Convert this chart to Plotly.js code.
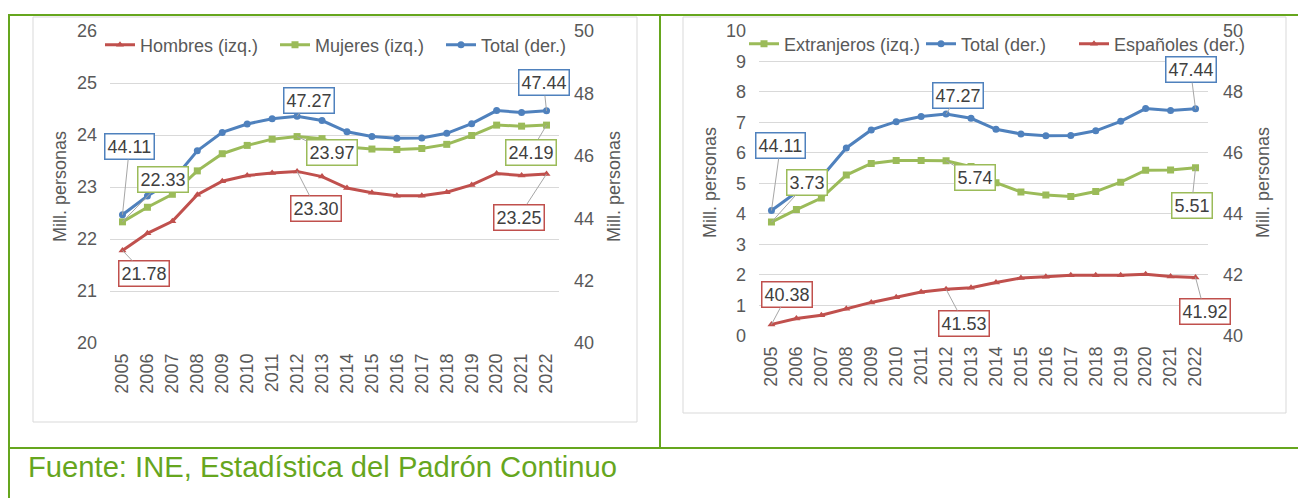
<!DOCTYPE html>
<html><head><meta charset="utf-8">
<script src="https://cdn.plot.ly/plotly-3.0.1.min.js"></script>
<style>html,body{margin:0;padding:0;background:#fff;overflow:hidden}#chart{width:1298px;height:498px}</style>
</head><body><div id="chart"></div><script>
const years = ['2005','2006','2007','2008','2009','2010','2011','2012','2013','2014','2015','2016','2017','2018','2019','2020','2021','2022'];
const hombres = [21.78,22.11,22.34,22.85,23.11,23.22,23.27,23.30,23.20,22.98,22.89,22.83,22.83,22.90,23.04,23.26,23.22,23.25];
const mujeres = [22.33,22.61,22.86,23.31,23.64,23.80,23.92,23.97,23.93,23.77,23.73,23.72,23.74,23.82,23.99,24.19,24.17,24.19];
const total = [44.11,44.71,45.20,46.16,46.75,47.02,47.19,47.27,47.13,46.77,46.62,46.56,46.57,46.72,47.03,47.45,47.39,47.44];
const extranjeros = [3.73,4.14,4.52,5.27,5.65,5.75,5.75,5.74,5.55,5.02,4.72,4.62,4.57,4.73,5.04,5.43,5.44,5.51];
const espanoles = [40.38,40.57,40.68,40.89,41.10,41.27,41.44,41.53,41.58,41.75,41.90,41.94,41.99,41.99,41.99,42.02,41.95,41.92];
const leftTicksA = [20,21,22,23,24,25,26];
const leftTicksB = [0,1,2,3,4,5,6,7,8,9,10];
const rightTicks = [40,42,44,46,48,50];
const seriesNames = ['Hombres (izq.)','Mujeres (izq.)','Total (der.)','Extranjeros (izq.)','Españoles (der.)'];
const yTitle = 'Mill. personas';
const source = 'Fuente: INE, Estadística del Padrón Continuo';

const W = 1298, H = 498;
const px = v => v / W;
const py = v => 1 - v / H;
const RED = '#C0504D', GREEN = '#9BBB59', BLUE = '#4F81BD', GRAY = '#595959', FRAME = '#66A61E';
const FONT = 'Liberation Sans, Arial, sans-serif';

function tr(name, y, xa, ya, color, sym, leg) {
  return {type:'scatter', mode:'lines+markers', name:name, x:years, y:y, xaxis:xa, yaxis:ya,
    legend:leg, line:{color:color, width:3}, marker:{symbol:sym, size:7, color:color}, hoverinfo:'skip'};
}
const data = [
  tr(seriesNames[0], hombres, 'x', 'y', RED, 'triangle-up', 'legend'),
  tr(seriesNames[1], mujeres, 'x', 'y', GREEN, 'square', 'legend2'),
  tr(seriesNames[2], total, 'x', 'y2', BLUE, 'circle', 'legend3'),
  tr(seriesNames[3], extranjeros, 'x2', 'y3', GREEN, 'square', 'legend4'),
  tr(seriesNames[2], total, 'x2', 'y4', BLUE, 'circle', 'legend5'),
  tr(seriesNames[4], espanoles, 'x2', 'y4', RED, 'triangle-up', 'legend6')
];

function lab(xr, yr, arr, i, color, ax, ay) {
  return {xref:xr, yref:yr, x:i, y:arr[i], text:arr[i].toFixed(2), showarrow:true,
    arrowhead:0, arrowwidth:1, arrowcolor:'#A6A6A6', ax:ax, ay:ay, standoff:0,
    bgcolor:'#FFFFFF', bordercolor:color, borderwidth:1.5, borderpad:2,
    font:{family:FONT, size:18, color:'#404040'}};
}
const L = years.length - 1;
const annotations = [
  lab('x','y2', total, 0, BLUE, 7, -68),
  lab('x','y', mujeres, 0, GREEN, 41, -42),
  lab('x','y2', total, 7, BLUE, 12, -16),
  lab('x','y', mujeres, 7, GREEN, 35, 16),
  lab('x','y', hombres, 7, RED, 19, 37),
  lab('x','y', hombres, 0, RED, 22, 23),
  lab('x','y2', total, L, BLUE, -3, -28),
  lab('x','y', mujeres, L, GREEN, -16, 27),
  lab('x','y', hombres, L, RED, -28, 43),
  lab('x2','y4', total, 0, BLUE, 9, -65),
  lab('x2','y3', extranjeros, 0, GREEN, 36, -40),
  lab('x2','y4', total, 7, BLUE, 12, -19),
  lab('x2','y3', extranjeros, 7, GREEN, 29, 17),
  lab('x2','y4', total, L, BLUE, -5, -39),
  lab('x2','y3', extranjeros, L, GREEN, -4, 38),
  lab('x2','y4', espanoles, 0, RED, 16, -30),
  lab('x2','y4', espanoles, 7, RED, 18, 34),
  lab('x2','y4', espanoles, L, RED, 9, 34)
];
function ytitle(xp, yp) {
  return {xref:'paper', yref:'paper', x:px(xp), y:py(yp), text:yTitle, textangle:-90, showarrow:false,
    xanchor:'center', yanchor:'middle', font:{family:FONT, size:18, color:GRAY}};
}
annotations.push(ytitle(60, 187), ytitle(614, 187), ytitle(710, 183), ytitle(1263, 183));
annotations.push({xref:'paper', yref:'paper', x:px(26), y:py(467), xanchor:'left', yanchor:'middle',
  text:source, showarrow:false, font:{family:FONT, size:29.2, color:FRAME}});

function line(x0,y0,x1,y1,color,w){return {type:'line', xref:'paper', yref:'paper', x0:px(x0), y0:py(y0), x1:px(x1), y1:py(y1), line:{color:color, width:w}, layer:'below'};}
function rect(x0,y0,x1,y1){return {type:'rect', xref:'paper', yref:'paper', x0:px(x0), y0:py(y0), x1:px(x1), y1:py(y1), line:{color:'#D9D9D9', width:1}, layer:'below'};}
const shapes = [
  rect(33,17,637,422), rect(683,17,1286,413),
  line(8,15,1298,15,FRAME,2), line(9,15,9,498,FRAME,2), line(660,15,660,448,FRAME,2), line(8,448,1298,448,FRAME,2)
];

const tickFont = {family:FONT, size:18, color:GRAY};
const xbase = {type:'category', range:[-0.5, 17.5], tickangle:-90, showgrid:false, showline:false, zeroline:false,
  ticks:'', tickfont:tickFont, ticklabelstandoff:6, fixedrange:true};
const ybase = {showline:false, zeroline:false, ticks:'', tickfont:tickFont, gridcolor:'#D9D9D9', gridwidth:1, fixedrange:true};
function leg(xText, yc) {
  return {orientation:'h', xanchor:'left', yanchor:'middle', x:px(xText - 41), y:py(yc), bgcolor:'rgba(0,0,0,0)',
    font:{family:FONT, size:18, color:GRAY}, itemwidth:30, itemclick:false};
}

const layout = {
  width:W, height:H, margin:{l:0,r:0,t:0,b:0}, paper_bgcolor:'#fff', plot_bgcolor:'rgba(0,0,0,0)',
  font:{family:FONT, color:GRAY}, showlegend:true, hovermode:false,
  xaxis:Object.assign({}, xbase, {domain:[px(110), px(559)], anchor:'y'}),
  xaxis2:Object.assign({}, xbase, {domain:[px(759), px(1208)], anchor:'y3'}),
  yaxis:Object.assign({}, ybase, {domain:[py(343), py(31)], range:[20,26], tickvals:leftTicksA, anchor:'x', ticklabelstandoff:12}),
  yaxis2:Object.assign({}, ybase, {overlaying:'y', side:'right', anchor:'x', range:[40,50], tickvals:rightTicks, showgrid:false, ticklabelstandoff:14}),
  yaxis3:Object.assign({}, ybase, {domain:[py(336), py(30.7)], range:[0,10], tickvals:leftTicksB, anchor:'x2', ticklabelstandoff:12}),
  yaxis4:Object.assign({}, ybase, {overlaying:'y3', side:'right', anchor:'x2', range:[40,50], tickvals:rightTicks, showgrid:false, ticklabelstandoff:14}),
  legend:leg(141, 45), legend2:leg(316, 45), legend3:leg(482, 45),
  legend4:leg(785, 44), legend5:leg(962, 44), legend6:leg(1115, 44),
  annotations:annotations, shapes:shapes
};
Plotly.newPlot('chart', data, layout, {staticPlot:true, displayModeBar:false});
</script></body></html>
